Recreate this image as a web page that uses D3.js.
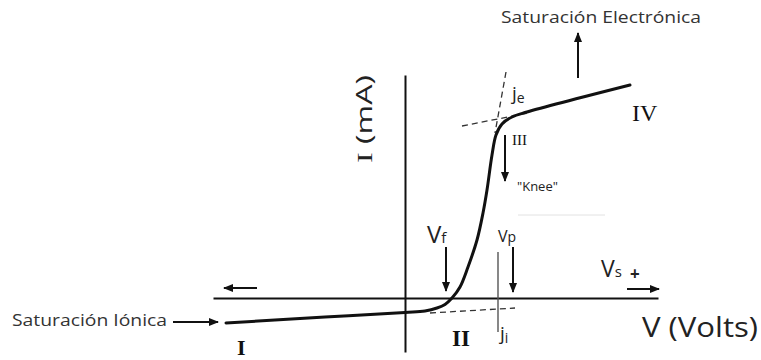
<!DOCTYPE html>
<html>
<head>
<meta charset="utf-8">
<script src="https://cdn.jsdelivr.net/npm/d3@7"></script>
<style>
  html, body { margin: 0; padding: 0; background: #fff; }
  svg { display: block; }
</style>
</head>
<body>
<svg id="chart" width="761" height="360"></svg>
<script>
// Langmuir probe I–V characteristic (probe voltage V vs. collected current I)
const curveV = [-8.95, -4.0, 0, 1.0, 1.6, 2.0, 2.35, 2.75, 3.15, 3.6, 3.9, 4.1, 4.35, 4.55, 4.85, 5.35, 6.1, 11.25];
const curveI = [-1.25, -0.95, -0.72, -0.65, -0.5, -0.32, 0, 0.55, 1.55, 2.9, 4.25, 5.4, 7.15, 8.15, 8.7, 9.05, 9.3, 10.65];

// axis extents
const voltAxisExtent = [-9.6, 12.65];
const currentAxisExtent = [-2.7, 11.15];

// tangent constructions (dashed) and reference marks
const tangentElectronV = [2.85, 6.15];   // extension of the saturation branch
const tangentElectronI = [8.6, 9.25];
const tangentSteepV = [5.05, 4.5];       // extension of the steep branch
const tangentSteepI = [11.3, 8.25];
const tangentIonV = [1.25, 5.5];         // ion saturation level
const tangentIonI = [-0.75, -0.5];
const plasmaV = 4.65;                    // vertical marker at Vp
const plasmaMarkI = [2.3, -1.7];

// arrows: [V0, I0, V1, I1]
const arrows = [
  [-7.4, 0.5, -9.05, 0.5],     // ion direction
  [-11.6, -1.2, -9.35, -1.2],  // ion saturation pointer
  [8.65, 11.0, 8.65, 13.25],   // electron saturation
  [5.0, 8.15, 5.0, 5.85],      // knee
  [2.05, 2.55, 2.05, 0.35],    // floating potential
  [5.4, 2.55, 5.4, 0.3],       // plasma potential
  [11.1, 0.45, 12.7, 0.45]     // V_s direction
];

const svg = d3.select("#chart");
const x = d3.scaleLinear().domain([-10, 13]).range([205, 665]);
const y = d3.scaleLinear().domain([-3, 12]).range([358, 58]);

const ink = "#111";

// arrowhead marker
svg.append("defs").append("marker")
  .attr("id", "head")
  .attr("markerUnits", "userSpaceOnUse")
  .attr("viewBox", "0 0 10 8")
  .attr("markerWidth", 10).attr("markerHeight", 8)
  .attr("refX", 9).attr("refY", 4)
  .attr("orient", "auto")
  .append("path").attr("d", "M0,0L10,4L0,8Z").attr("fill", ink);

// axes without ticks
const xAxisScale = x.copy().domain(voltAxisExtent).range(voltAxisExtent.map(x));
const yAxisScale = y.copy().domain(currentAxisExtent).range(currentAxisExtent.map(y));
svg.append("g").attr("transform", `translate(0,${y(0)})`)
  .call(d3.axisBottom(xAxisScale).tickValues([]).tickSizeOuter(0))
  .select(".domain").attr("stroke", ink).attr("stroke-width", 2);
svg.append("g").attr("transform", `translate(${x(0)},0)`)
  .call(d3.axisLeft(yAxisScale).tickValues([]).tickSizeOuter(0))
  .select(".domain").attr("stroke", ink).attr("stroke-width", 2);

// faint guide line near the knee
svg.append("line")
  .attr("x1", x(5.65)).attr("x2", x(10)).attr("y1", y(4.15)).attr("y2", y(4.15))
  .attr("stroke", "#e2e2e2").attr("stroke-width", 1);

// Vp marker
svg.append("line")
  .attr("x1", x(plasmaV)).attr("x2", x(plasmaV))
  .attr("y1", y(plasmaMarkI[0])).attr("y2", y(plasmaMarkI[1]))
  .attr("stroke", "#555").attr("stroke-width", 1.4);

// dashed tangents
const dashed = [[tangentElectronV, tangentElectronI], [tangentSteepV, tangentSteepI], [tangentIonV, tangentIonI]];
svg.selectAll("line.tangent").data(dashed).join("line")
  .attr("class", "tangent")
  .attr("x1", d => x(d[0][0])).attr("y1", d => y(d[1][0]))
  .attr("x2", d => x(d[0][1])).attr("y2", d => y(d[1][1]))
  .attr("stroke", "#333").attr("stroke-width", 1.3)
  .attr("stroke-dasharray", "6,4");

// characteristic curve
const pts = curveV.map((v, i) => [v, curveI[i]]);
svg.append("path")
  .datum(pts)
  .attr("fill", "none").attr("stroke", ink).attr("stroke-width", 3)
  .attr("stroke-linecap", "round")
  .attr("d", d3.line().x(d => x(d[0])).y(d => y(d[1])).curve(d3.curveCatmullRom.alpha(0.5)));

// arrows
svg.selectAll("line.arrow").data(arrows).join("line")
  .attr("class", "arrow")
  .attr("x1", d => x(d[0])).attr("y1", d => y(d[1]))
  .attr("x2", d => x(d[2])).attr("y2", d => y(d[3]))
  .attr("stroke", ink).attr("stroke-width", 2)
  .attr("marker-end", "url(#head)");

// text labels
const sans = "'Open Sans', 'Noto Sans', sans-serif";
const serif = "'Liberation Serif', 'Times New Roman', serif";
function label(v, i, parts, opts = {}) {
  const t = svg.append("text")
    .attr("x", x(v)).attr("y", y(i))
    .attr("fill", opts.fill || "#222")
    .attr("font-family", opts.family || sans)
    .attr("font-size", opts.size || 16);
  if (opts.weight) t.attr("font-weight", opts.weight);
  if (opts.rotate) t.attr("transform", `rotate(${opts.rotate},${x(v)},${y(i)})`);
  parts.forEach(p => {
    const s = t.append("tspan").text(p.text);
    if (p.size) s.attr("font-size", p.size);
    if (p.dy) s.attr("dy", p.dy);
    if (p.family) s.attr("font-family", p.family);
  });
  if (opts.width) t.attr("textLength", opts.width).attr("lengthAdjust", "spacingAndGlyphs");
  return t;
}

label(4.8, 13.75, [{ text: "Saturación Electrónica" }], { size: 16, width: 200, fill: "#333" });
label(-19.65, -1.4, [{ text: "Saturación Iónica" }], { size: 16, width: 155, fill: "#333" });
label(11.85, -1.95, [{ text: "V (Volts)" }], { size: 28, width: 116 });
label(-1.65, 6.75, [{ text: "I", family: serif }, { text: " (mA)" }], { size: 22, rotate: -90, width: 88 });
label(1.1, 2.75, [{ text: "V" }, { text: "f", size: 15 }], { size: 24 });
label(4.65, 2.8, [{ text: "V" }, { text: "p", size: 14 }], { size: 16 });
label(9.8, 1.05, [{ text: "V" }, { text: "s", size: 15 }], { size: 23 });
label(11.25, 0.9, [{ text: "+" }], { size: 17, weight: "bold" });
label(5.35, 9.9, [{ text: "j" }, { text: "e", size: 14, dy: 3 }], { size: 19 });
label(4.75, -2.1, [{ text: "j" }, { text: "i", size: 14, dy: 3 }], { size: 19 });
label(11.35, 8.85, [{ text: "IV" }], { family: serif, size: 24, fill: "#111" });
label(5.35, 7.65, [{ text: "III" }], { family: serif, size: 15, fill: "#111" });
label(2.35, -2.4, [{ text: "II" }], { family: serif, size: 23, weight: "bold", fill: "#111" });
label(-8.4, -2.85, [{ text: "I" }], { family: serif, size: 22, weight: "bold", fill: "#111" });
label(5.6, 5.35, [{ text: "\"Knee\"" }], { size: 13 });
</script>
</body>
</html>
